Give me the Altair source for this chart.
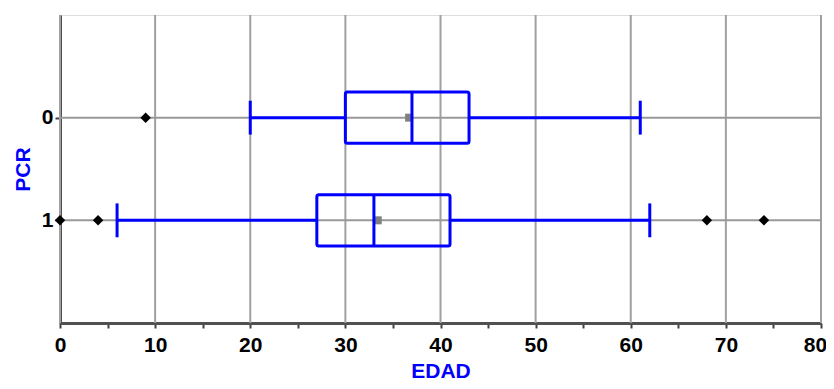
import altair as alt
import pandas as pd

# ---- data ----
groups = [0, 1]
q1 = [30, 27]
median = [37, 33]
q3 = [43, 41]
whisker_low = [20, 6]
whisker_high = [61, 62]
means = [36.7, 33.4]
outlier_group = [0, 1, 1, 1, 1]
outlier_value = [9, 0, 4, 68, 74]
x_ticks = list(range(0, 85, 5))
grid_values = list(range(0, 90, 10))

BLUE = "#0000ff"
FONT = "Liberation Sans"
FS = 21
W, H = 761, 308

box_df = pd.DataFrame({
    "PCR": groups, "q1": q1, "median": median, "q3": q3,
    "low": whisker_low, "high": whisker_high, "mean": means,
})
box_df["b_lo"] = box_df["PCR"] - 0.25
box_df["b_hi"] = box_df["PCR"] + 0.25
box_df["c_lo"] = box_df["PCR"] - 0.165
box_df["c_hi"] = box_df["PCR"] + 0.165
box_df["x0"] = 0
box_df["x80"] = 80

out_df = pd.DataFrame({"PCR": outlier_group, "EDAD": outlier_value})
grid_df = pd.DataFrame({"g": grid_values})

xscale = alt.Scale(domain=[0, 80], nice=False, zero=False)
yscale = alt.Scale(domain=[-1, 2], reverse=True, nice=False, zero=False)

xaxis = alt.Axis(
    values=x_ticks, grid=False, title="EDAD",
    labelExpr="datum.value % 10 == 0 ? datum.label : ''",
    labelOffset={"condition": {"test": "datum.value == 80", "value": -6}, "value": 0},
    domainColor="#505050", domainWidth=3, tickColor="#404040", tickWidth=2,
    tickSize=5, labelFont=FONT, labelFontSize=FS, labelFontWeight="bold",
    labelColor="#000000", labelPadding=6, labelFlush=False,
    titleFont=FONT, titleFontSize=FS, titleFontWeight="bold", titleColor=BLUE,
    titlePadding=5,
)
yaxis = alt.Axis(
    values=[0, 1], grid=False, title="PCR", format="d",
    domainColor="#505050", domainWidth=3, tickColor="#404040", tickWidth=2,
    tickSize=5, labelFont=FONT, labelFontSize=FS, labelFontWeight="bold",
    labelColor="#000000", labelPadding=2,
    titleFont=FONT, titleFontSize=FS, titleFontWeight="bold", titleColor=BLUE,
    titlePadding=8,
)

base = alt.Chart(box_df)

grid = alt.Chart(grid_df).mark_rule(color="#a0a0a0", strokeWidth=2).encode(
    x=alt.X("g:Q", scale=xscale, axis=xaxis),
)

hlines = base.mark_rule(color="#999999", strokeWidth=2).encode(
    x=alt.X("x0:Q", scale=xscale),
    x2="x80:Q",
    y=alt.Y("PCR:Q", scale=yscale, axis=yaxis),
)

whisk_l = base.mark_rule(color=BLUE, strokeWidth=3).encode(
    x=alt.X("low:Q", scale=xscale), x2="q1:Q", y=alt.Y("PCR:Q", scale=yscale))
whisk_r = base.mark_rule(color=BLUE, strokeWidth=3).encode(
    x=alt.X("q3:Q", scale=xscale), x2="high:Q", y=alt.Y("PCR:Q", scale=yscale))
cap_l = base.mark_rule(color=BLUE, strokeWidth=3).encode(
    x=alt.X("low:Q", scale=xscale), y=alt.Y("c_lo:Q", scale=yscale), y2="c_hi:Q")
cap_r = base.mark_rule(color=BLUE, strokeWidth=3).encode(
    x=alt.X("high:Q", scale=xscale), y=alt.Y("c_lo:Q", scale=yscale), y2="c_hi:Q")
box = base.mark_rect(fill=None, fillOpacity=0, stroke=BLUE, strokeWidth=3,
                     cornerRadius=2).encode(
    x=alt.X("q1:Q", scale=xscale), x2="q3:Q",
    y=alt.Y("b_lo:Q", scale=yscale), y2="b_hi:Q")
med = base.mark_rule(color=BLUE, strokeWidth=3).encode(
    x=alt.X("median:Q", scale=xscale), y=alt.Y("b_lo:Q", scale=yscale), y2="b_hi:Q")
mean_pt = base.mark_point(shape="square", filled=True, color="#808080",
                          size=64, opacity=1).encode(
    x=alt.X("mean:Q", scale=xscale), y=alt.Y("PCR:Q", scale=yscale))
outl = alt.Chart(out_df).mark_point(shape="diamond", filled=True, color="#000000",
                                    size=110, opacity=1).encode(
    x=alt.X("EDAD:Q", scale=xscale), y=alt.Y("PCR:Q", scale=yscale))

chart = alt.layer(
    grid, hlines, mean_pt, whisk_l, whisk_r, cap_l, cap_r, box, med, outl
).properties(
    width=W, height=H,
    autosize=alt.AutoSizeParams(type="none"),
    padding={"left": 52, "top": 7, "right": 5, "bottom": 58},
).configure_view(stroke=None).configure(background="#ffffff")

chart.save("out.html", embed_options={"renderer": "svg", "actions": False})
